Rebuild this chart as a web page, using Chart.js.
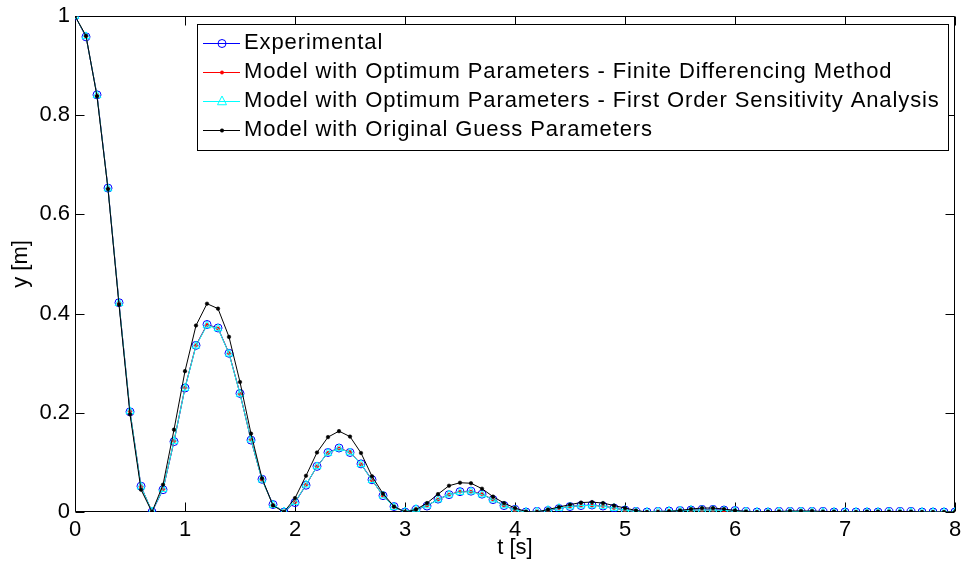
<!DOCTYPE html>
<html>
<head>
<meta charset="utf-8">
<script src="https://cdn.jsdelivr.net/npm/chart.js@4/dist/chart.umd.min.js"></script>
<style>
  html, body { margin: 0; padding: 0; background: #ffffff; }
  #wrap { width: 961px; height: 569px; }
</style>
</head>
<body>
<div id="wrap"><canvas id="c" width="961" height="569"></canvas></div>
<script>
// Sample times [s]
const timeS = [
  0.0, 0.1, 0.2, 0.3, 0.4, 0.5, 0.6, 0.7, 0.8, 0.9,
  1.0, 1.1, 1.2, 1.3, 1.4, 1.5, 1.6, 1.7, 1.8, 1.9,
  2.0, 2.1, 2.2, 2.3, 2.4, 2.5, 2.6, 2.7, 2.8, 2.9,
  3.0, 3.1, 3.2, 3.3, 3.4, 3.5, 3.6, 3.7, 3.8, 3.9,
  4.0, 4.1, 4.2, 4.3, 4.4, 4.5, 4.6, 4.7, 4.8, 4.9,
  5.0, 5.1, 5.2, 5.3, 5.4, 5.5, 5.6, 5.7, 5.8, 5.9,
  6.0, 6.1, 6.2, 6.3, 6.4, 6.5, 6.6, 6.7, 6.8, 6.9,
  7.0, 7.1, 7.2, 7.3, 7.4, 7.5, 7.6, 7.7, 7.8, 7.9, 8.0
];

// Measured displacement [m]
const experimental = [
  1.000, 0.958, 0.841, 0.653, 0.422, 0.202, 0.052, 0.000, 0.045, 0.142,
  0.250, 0.336, 0.378, 0.371, 0.320, 0.239, 0.145, 0.066, 0.015, 0.000,
  0.019, 0.054, 0.092, 0.120, 0.129, 0.120, 0.097, 0.065, 0.033, 0.011,
  0.000, 0.005, 0.012, 0.026, 0.035, 0.041, 0.042, 0.036, 0.025, 0.013,
  0.005, 0.000, 0.001, 0.003, 0.007, 0.011, 0.013, 0.014, 0.012, 0.008,
  0.004, 0.001, 0.000, 0.001, 0.002, 0.003, 0.004, 0.005, 0.005, 0.004,
  0.003, 0.001, 0.000, 0.000, 0.001, 0.001, 0.001, 0.001, 0.001, 0.000,
  0.000, 0.000, 0.000, 0.000, 0.001, 0.001, 0.001, 0.000, 0.000, 0.000, 0.000
];

// Model response, parameters fitted by finite differencing
const optFiniteDiff = [
  1.000, 0.959, 0.840, 0.652, 0.421, 0.203, 0.051, 0.001, 0.046, 0.143,
  0.251, 0.336, 0.377, 0.370, 0.320, 0.238, 0.146, 0.065, 0.014, 0.001,
  0.020, 0.055, 0.092, 0.119, 0.128, 0.121, 0.096, 0.064, 0.033, 0.010,
  0.001, 0.006, 0.013, 0.025, 0.035, 0.041, 0.041, 0.036, 0.025, 0.013,
  0.004, 0.000, 0.001, 0.004, 0.008, 0.011, 0.013, 0.013, 0.012, 0.008,
  0.004, 0.001, 0.000, 0.001, 0.002, 0.003, 0.004, 0.004, 0.004, 0.003,
  0.002, 0.001, 0.000, 0.000, 0.001, 0.001, 0.001, 0.001, 0.000, 0.000,
  0.000, 0.000, 0.000, 0.000, 0.000, 0.000, 0.000, 0.000, 0.000, 0.000, 0.000
];

// Model response, parameters fitted by first order sensitivity analysis
const optSensitivity = [
  1.000, 0.959, 0.840, 0.652, 0.421, 0.203, 0.051, 0.001, 0.046, 0.143,
  0.250, 0.335, 0.376, 0.370, 0.319, 0.238, 0.146, 0.065, 0.014, 0.001,
  0.020, 0.055, 0.092, 0.119, 0.128, 0.120, 0.096, 0.064, 0.033, 0.010,
  0.001, 0.006, 0.013, 0.025, 0.035, 0.040, 0.041, 0.035, 0.025, 0.013,
  0.004, 0.000, 0.001, 0.004, 0.008, 0.011, 0.013, 0.013, 0.012, 0.008,
  0.004, 0.001, 0.000, 0.001, 0.002, 0.003, 0.004, 0.004, 0.004, 0.003,
  0.002, 0.001, 0.000, 0.000, 0.001, 0.001, 0.001, 0.001, 0.000, 0.000,
  0.000, 0.000, 0.000, 0.000, 0.000, 0.000, 0.000, 0.000, 0.000, 0.000, 0.000
];

// Model response with the initial parameter guess
const originalGuess = [
  1.000, 0.960, 0.838, 0.651, 0.418, 0.197, 0.045, 0.000, 0.055, 0.166,
  0.284, 0.376, 0.420, 0.410, 0.353, 0.262, 0.158, 0.068, 0.013, 0.000,
  0.028, 0.073, 0.120, 0.151, 0.163, 0.152, 0.119, 0.072, 0.037, 0.011,
  0.000, 0.005, 0.018, 0.036, 0.053, 0.059, 0.058, 0.047, 0.031, 0.018,
  0.008, 0.001, 0.000, 0.005, 0.010, 0.015, 0.019, 0.020, 0.018, 0.013,
  0.008, 0.003, 0.000, 0.000, 0.001, 0.003, 0.006, 0.008, 0.008, 0.006,
  0.003, 0.001, 0.000, 0.001, 0.001, 0.002, 0.002, 0.002, 0.001, 0.001,
  0.000, 0.000, 0.001, 0.001, 0.001, 0.001, 0.001, 0.000, 0.000, 0.000, 0.000
];

const seriesLabels = [
  'Experimental',
  'Model with Optimum Parameters - Finite Differencing Method',
  'Model with Optimum Parameters - First Order Sensitivity Analysis',
  'Model with Original Guess Parameters'
];

const xTicks = [0, 1, 2, 3, 4, 5, 6, 7, 8];
const xTickLabels = ['0', '1', '2', '3', '4', '5', '6', '7', '8'];
const yTicks = [0, 0.2, 0.4, 0.6, 0.8, 1];
const yTickLabels = ['0', '0.2', '0.4', '0.6', '0.8', '1'];

const FONT = '"Liberation Sans", Arial, Helvetica, sans-serif';

function points(values) {
  return timeS.map((t, i) => ({ x: t, y: values[i] }));
}

// Box around the axes with inward tick marks on all four sides
const axesBox = {
  id: 'axesBox',
  beforeDatasetsDraw(chart) {
    const { ctx, chartArea: a, scales: { x, y } } = chart;
    const L = Math.round(a.left) + 0.5, R = Math.round(a.right) - 0.5;
    const T = Math.round(a.top) + 0.5, B = Math.round(a.bottom) - 0.5;
    const len = 9;
    ctx.save();
    ctx.strokeStyle = '#000';
    ctx.lineWidth = 1;
    ctx.beginPath();
    ctx.rect(L, T, R - L, B - T);
    xTicks.forEach(v => {
      const px = Math.round(x.getPixelForValue(v)) + 0.5;
      ctx.moveTo(px, B); ctx.lineTo(px, B - len);
      ctx.moveTo(px, T); ctx.lineTo(px, T + len);
    });
    yTicks.forEach(v => {
      const py = Math.round(y.getPixelForValue(v)) + 0.5;
      ctx.moveTo(L, py); ctx.lineTo(L + len, py);
      ctx.moveTo(R, py); ctx.lineTo(R - len, py);
    });
    ctx.stroke();
    ctx.restore();
  }
};

// Boxed legend in the upper part of the axes
const boxedLegend = {
  id: 'boxedLegend',
  afterDraw(chart) {
    const { ctx } = chart;
    const bx = 197.5, by = 24.5, bw = 751, bh = 126;
    const rowY = [43, 72, 101, 130];
    ctx.save();
    ctx.fillStyle = '#fff';
    ctx.fillRect(bx, by, bw, bh);
    ctx.strokeStyle = '#000';
    ctx.lineWidth = 1;
    ctx.strokeRect(bx, by, bw, bh);
    chart.data.datasets.forEach((ds, i) => {
      const yy = rowY[i] + 0.5;
      ctx.strokeStyle = ds.borderColor;
      ctx.lineWidth = 1;
      ctx.beginPath();
      ctx.moveTo(203, yy); ctx.lineTo(240, yy);
      ctx.stroke();
      const r = ds.pointRadius;
      ctx.fillStyle = ds.pointBackgroundColor;
      ctx.strokeStyle = ds.pointBorderColor;
      ctx.lineWidth = ds.pointBorderWidth;
      ctx.beginPath();
      if (ds.pointStyle === 'triangle') {
        const h = r * 1.5;
        ctx.moveTo(222, yy - h * 2 / 3 - 1);
        ctx.lineTo(222 + r, yy + h / 3 + 1);
        ctx.lineTo(222 - r, yy + h / 3 + 1);
        ctx.closePath();
      } else {
        ctx.arc(222, yy, r, 0, Math.PI * 2);
      }
      ctx.fill();
      ctx.stroke();
      ctx.fillStyle = '#000';
      ctx.font = '22px ' + FONT;
      ctx.textBaseline = 'middle';
      ctx.textAlign = 'left';
      if ('letterSpacing' in ctx) ctx.letterSpacing = '0.9px';
      ctx.fillText(ds.label, 244, rowY[i]);
    });
    ctx.restore();
  }
};

new Chart(document.getElementById('c'), {
  type: 'scatter',
  data: {
    datasets: [
      {
        label: seriesLabels[0], data: points(experimental), order: 4,
        showLine: true, borderColor: '#0000ff', borderWidth: 1,
        pointStyle: 'circle', pointRadius: 4, pointBorderWidth: 1,
        pointBorderColor: '#0000ff', pointBackgroundColor: 'rgba(0,0,0,0)'
      },
      {
        label: seriesLabels[1], data: points(optFiniteDiff), order: 3,
        showLine: true, borderColor: '#ff0000', borderWidth: 1,
        pointStyle: 'circle', pointRadius: 1.7, pointBorderWidth: 0.5,
        pointBorderColor: '#ff0000', pointBackgroundColor: '#ff0000'
      },
      {
        label: seriesLabels[2], data: points(optSensitivity), order: 2,
        showLine: true, borderColor: '#00ffff', borderWidth: 1,
        pointStyle: 'triangle', pointRadius: 4.5, pointBorderWidth: 1,
        pointBorderColor: '#00ffff', pointBackgroundColor: 'rgba(0,0,0,0)'
      },
      {
        label: seriesLabels[3], data: points(originalGuess), order: 1,
        showLine: true, borderColor: '#000000', borderWidth: 1,
        pointStyle: 'circle', pointRadius: 1.8, pointBorderWidth: 0.5,
        pointBorderColor: '#000000', pointBackgroundColor: '#000000'
      }
    ]
  },
  options: {
    responsive: false,
    animation: false,
    devicePixelRatio: 1,
    layout: { padding: { top: 16, right: 6, left: 0, bottom: 0 } },
    elements: { line: { tension: 0 } },
    plugins: { legend: { display: false }, tooltip: { enabled: false } },
    events: [],
    scales: {
      x: {
        type: 'linear', min: 0, max: 8,
        afterBuildTicks: s => { s.ticks = xTicks.map(v => ({ value: v })); },
        afterFit: s => { s.height = 57; s.paddingLeft = 0; s.paddingRight = 0; },
        grid: { display: false, drawTicks: false },
        border: { display: false },
        ticks: {
          color: '#000', padding: 7, maxRotation: 0, autoSkip: false,
          font: { family: FONT, size: 22, lineHeight: 1 },
          callback: (v) => xTickLabels[xTicks.indexOf(v)] ?? ''
        },
        title: {
          display: true, text: 't [s]', color: '#000',
          font: { family: FONT, size: 22, lineHeight: 1.2 },
          padding: { top: 0, bottom: 8 }
        }
      },
      y: {
        type: 'linear', min: 0, max: 1,
        afterBuildTicks: s => { s.ticks = yTicks.map(v => ({ value: v })); },
        afterFit: s => { s.width = 75; s.paddingTop = 0; s.paddingBottom = 0; },
        grid: { display: false, drawTicks: false },
        border: { display: false },
        ticks: {
          color: '#000', padding: 5, autoSkip: false,
          font: { family: FONT, size: 22, lineHeight: 1 },
          callback: (v) => yTickLabels[yTicks.indexOf(v)] ?? ''
        },
        title: {
          display: true, text: 'y [m]', color: '#000',
          font: { family: FONT, size: 22, lineHeight: 1.2 },
          padding: { top: 8, bottom: 0 }
        }
      }
    }
  },
  plugins: [axesBox, boxedLegend]
});
</script>
</body>
</html>
